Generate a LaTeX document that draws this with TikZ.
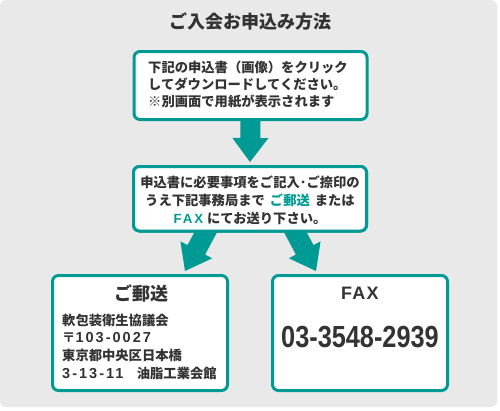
\documentclass[tikz,border=0pt]{standalone}
\usepackage{fontspec}
\usepackage{graphicx}
\setmainfont{Noto Sans CJK JP}
\newfontfamily\lat{Liberation Sans}
\newfontfamily\latsp{Liberation Sans}[LetterSpace=14]
\newfontfamily\lattl{Liberation Sans}[LetterSpace=7]
\usetikzlibrary{calc}
\definecolor{tealc}{RGB}{0,154,148}
\definecolor{bgc}{RGB}{233,233,233}
\definecolor{txt}{RGB}{51,51,51}
\newcommand\blockarr[2]{%
  \coordinate (ba-s) at (#1);
  \coordinate (ba-t) at (#2);
  \coordinate (ba-h) at ($(ba-t)!24pt!(ba-s)$);
  \fill[tealc] ($(ba-s)!10pt!90:(ba-t)$) -- ($(ba-h)!10pt!90:(ba-t)$)
    -- ($(ba-h)!18pt!90:(ba-t)$) -- (ba-t) -- ($(ba-h)!18pt!-90:(ba-t)$)
    -- ($(ba-h)!10pt!-90:(ba-t)$) -- ($(ba-s)!10pt!-90:(ba-t)$) -- cycle;
}
\begin{document}
\begin{tikzpicture}[x=1pt,y=-1pt,
  box/.style={draw=tealc, line width=3pt, fill=white, rounded corners=6pt, inner sep=0pt},
  txtn/.style={text=txt, inner sep=0pt},
  body/.style={txtn, font=\fontsize{13.3}{17}\selectfont\bfseries},
]
\useasboundingbox (0,0) rectangle (500,410);
\fill[bgc, rounded corners=6pt] (0,0) rectangle (497,407);

% boxes
\node[box, minimum width=233pt, minimum height=68pt] (b1) at (250.5,85.5) {};
\node[box, minimum width=233pt, minimum height=64.5pt] (b2) at (250,198.75) {};
\node[box, minimum width=175pt, minimum height=115pt] (b3) at (140,333) {};
\node[box, minimum width=175pt, minimum height=115pt] (b4) at (360,333) {};

% arrows
\coordinate (t1) at (250,162);
\coordinate (s2l) at (208.5,227);
\coordinate (t2l) at (185,271);
\coordinate (s2r) at (292.5,227);
\coordinate (t2r) at (316,271);
\blockarr{b1.south}{t1}
\blockarr{s2l}{t2l}
\blockarr{s2r}{t2r}
% redraw box2 over the shaft starts
\node[box, minimum width=233pt, minimum height=64.5pt] at (b2) {};

% title
\node[txtn, font=\fontsize{18}{20}\selectfont\bfseries] (title) at (250,22) {ご入会お申込み方法};

% box1 text
\node[body, anchor=west, align=left] (t1txt) at (148,85) {下記の申込書（画像）をクリック\\してダウンロードしてください。\\※別画面で用紙が表示されます};

% box2 text
\node[body, align=center, font=\fontsize{13.3}{18}\selectfont\bfseries] (t2txt) at (250,200) {申込書に必要事項をご記入･ご捺印の\\うえ下記事務局まで\hspace{2pt} {\color{tealc}ご郵送}\hspace{2pt} または\\{\color{tealc}\fontsize{13.3}{18}\latsp FAX}\hspace{4pt}にてお送り下さい。};

% box3 text
\node[txtn, font=\fontsize{18}{20}\selectfont\bfseries] (t3title) at (141,293) {ご郵送};
\node[body, anchor=west, align=left, font=\fontsize{13.3}{17.7}\selectfont\bfseries] (t3txt) at (62,346.5) {軟包装衛生協議会\\〒{\fontsize{14.5}{17.7}\latsp 103-0027}\\東京都中央区日本橋\\{\fontsize{14.5}{17.7}\latsp 3-13-11}　油脂工業会館};

% box4 text
\node[txtn, font=\fontsize{18}{20}\selectfont\bfseries] (t4title) at (360,293) {{\lattl FAX}};
\node[txtn, font=\bfseries] (t4num) at (360,337) {\scalebox{0.83}[1]{\fontsize{30.5}{32}\selectfont\lat 03-3548-2939}};
\end{tikzpicture}
\end{document}
